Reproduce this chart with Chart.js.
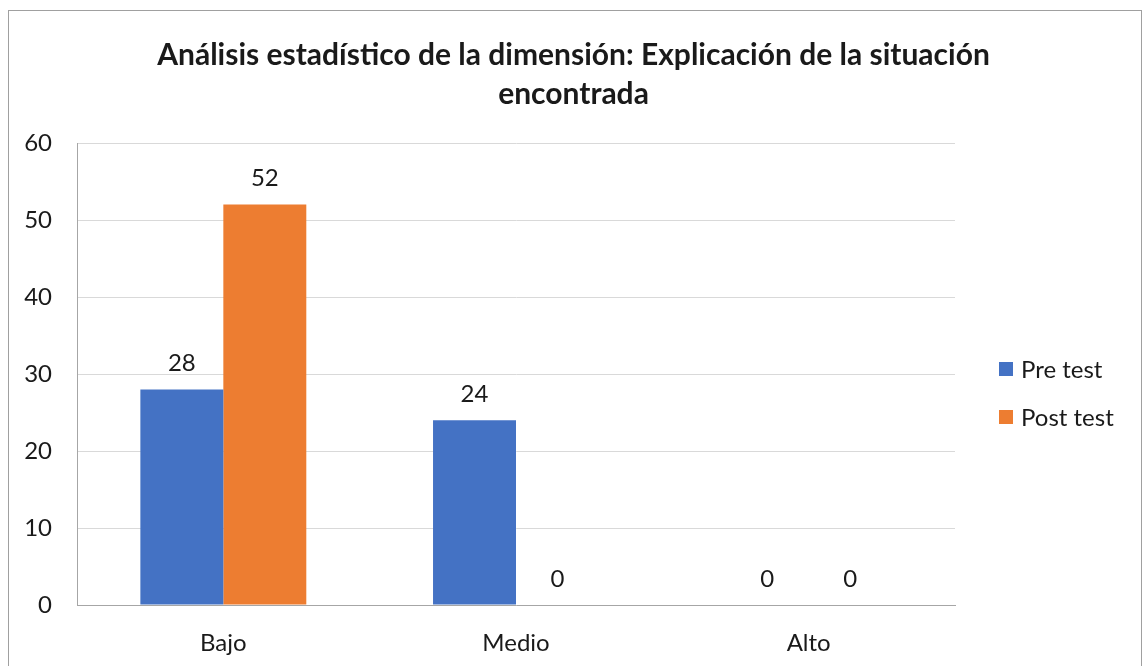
<!DOCTYPE html>
<html>
<head>
<meta charset="utf-8">
<script src="https://cdn.jsdelivr.net/npm/chart.js@4.4.1/dist/chart.umd.min.js"></script>
<style>
  html, body { margin: 0; padding: 0; background: #ffffff; }
  #wrap { position: relative; width: 1147px; height: 666px; }
  canvas { display: block; }
</style>
</head>
<body>
<div id="wrap"><canvas id="c" width="1147" height="666"></canvas></div>
<script>
const titleLines = ['Análisis estadístico de la dimensión: Explicación de la situación', 'encontrada'];
const categories = ['Bajo', 'Medio', 'Alto'];
const seriesNames = ['Pre test', 'Post test'];
const preTest = [28, 24, 0];
const postTest = [52, 0, 0];
const yTicks = [0, 10, 20, 30, 40, 50, 60];

const FONT = 'Lato, "Open Sans", "Liberation Sans", sans-serif';
const TEXT = '#1a1a1a';
const colors = ['#4472C4', '#ED7D31'];

const decor = {
  id: 'decor',
  beforeDraw(chart) {
    const ctx = chart.ctx;
    ctx.save();
    ctx.fillStyle = '#ffffff';
    ctx.fillRect(0, 0, chart.width, chart.height);
    ctx.strokeStyle = '#a0a0a0';
    ctx.lineWidth = 1;
    ctx.strokeRect(8.5, 10.5, 1133, 720);
    ctx.restore();
  },
  afterDraw(chart) {
    const ctx = chart.ctx;
    const area = chart.chartArea;
    ctx.save();
    // title
    ctx.fillStyle = TEXT;
    ctx.font = 'bold 30px ' + FONT;
    ctx.textAlign = 'center';
    ctx.textBaseline = 'middle';
    titleLines.forEach((t, i) => ctx.fillText(t, chart.width / 2, 55 + i * 39));
    // data labels
    ctx.font = '24px ' + FONT;
    chart.data.datasets.forEach((ds, di) => {
      const meta = chart.getDatasetMeta(di);
      meta.data.forEach((bar, i) => {
        ctx.fillText(String(ds.data[i]), bar.x, bar.y - 26);
      });
    });
    // legend
    ctx.textAlign = 'left';
    seriesNames.forEach((name, i) => {
      const cy = 369 + i * 48;
      ctx.fillStyle = colors[i];
      ctx.fillRect(area.right + 44, cy - 7, 14, 14);
      ctx.fillStyle = TEXT;
      ctx.fillText(name, area.right + 66, cy + 1);
    });
    ctx.restore();
  }
};

new Chart(document.getElementById('c'), {
  type: 'bar',
  data: {
    labels: categories,
    datasets: [
      { label: seriesNames[0], data: preTest, backgroundColor: colors[0] },
      { label: seriesNames[1], data: postTest, backgroundColor: colors[1] }
    ]
  },
  options: {
    responsive: false,
    animation: false,
    devicePixelRatio: 1,
    layout: { padding: { top: 143, right: 192, left: 0, bottom: 0 } },
    datasets: { bar: { categoryPercentage: 0.567, barPercentage: 1.0 } },
    plugins: {
      legend: { display: false },
      title: { display: false },
      tooltip: { enabled: false }
    },
    scales: {
      x: {
        grid: { display: false, drawTicks: false },
        border: { display: true, color: '#a6a6a6', width: 1 },
        ticks: { color: TEXT, font: { family: FONT, size: 24 }, padding: 24 },
        afterFit(s) { s.height = 61; }
      },
      y: {
        min: 0, max: 60,
        afterBuildTicks(s) { s.ticks = yTicks.map(v => ({ value: v })); },
        grid: { color: '#d9d9d9', drawTicks: false },
        border: { display: true, color: '#a6a6a6', width: 1 },
        ticks: { color: TEXT, font: { family: FONT, size: 24 }, padding: 25 },
        afterFit(s) { s.width = 77; }
      }
    }
  },
  plugins: [decor]
});
</script>
</body>
</html>
